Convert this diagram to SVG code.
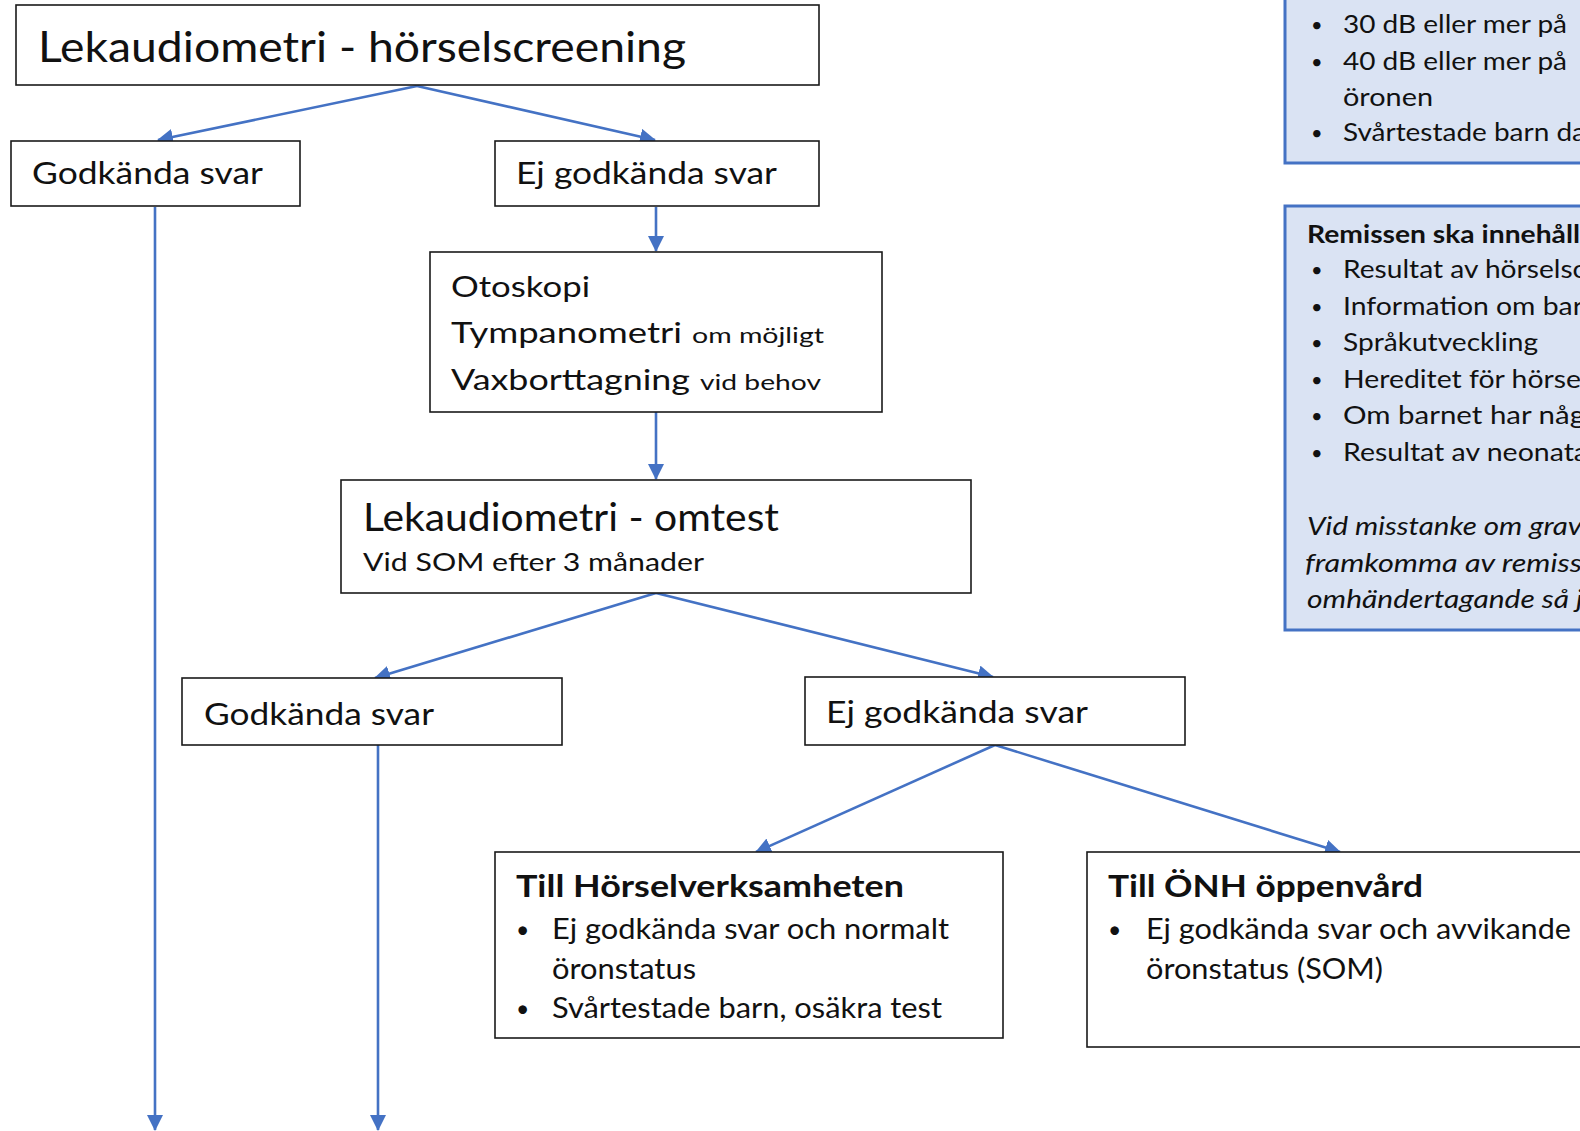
<svg xmlns="http://www.w3.org/2000/svg" width="1580" height="1131" viewBox="0 0 1580 1131">
<style>
.box{fill:#fff;stroke:#1a1a1a;stroke-width:1.6}
.info{fill:#dae3f3;stroke:#4472c4;stroke-width:3}
.t{font-family:Lato,"Liberation Sans",sans-serif;fill:#111}
.b{font-weight:bold}
.i{font-style:italic}
.bl{font-size:20px}
.con{stroke:#4472c4;stroke-width:2.6;fill:none;marker-end:url(#ah)}
</style>
<defs>
<marker id="ah" viewBox="0 0 16 16" refX="15" refY="8" markerWidth="16" markerHeight="16" markerUnits="userSpaceOnUse" orient="auto">
<path d="M0,0 L16,8 L0,16 z" fill="#4472c4"/>
</marker>
</defs>
<rect width="1580" height="1131" fill="#fff"/>

<g id="info1">
<rect class="info" x="1285" y="-10" width="310" height="173"/>
<g class="t" font-size="25">
<text class="bl" x="1311" y="32">•</text><text x="1343" y="33" textLength="224" lengthAdjust="spacingAndGlyphs">30 dB eller mer på</text>
<text class="bl" x="1311" y="69">•</text><text x="1343" y="70" textLength="224" lengthAdjust="spacingAndGlyphs">40 dB eller mer på</text>
<text x="1343" y="106" textLength="90" lengthAdjust="spacingAndGlyphs">öronen</text>
<text class="bl" x="1311" y="140">•</text><text x="1343" y="141" textLength="243" lengthAdjust="spacingAndGlyphs">Svårtestade barn da</text>
</g>
</g>

<g id="info2">
<rect class="info" x="1285" y="206" width="310" height="424"/>
<g class="t" font-size="25">
<text class="b" x="1307" y="243" textLength="273" lengthAdjust="spacingAndGlyphs">Remissen ska innehåll</text>
<text class="bl" x="1311" y="277">•</text><text x="1343" y="278" textLength="243" lengthAdjust="spacingAndGlyphs">Resultat av hörselsc</text>
<text class="bl" x="1311" y="314">•</text><text x="1343" y="315" textLength="240" lengthAdjust="spacingAndGlyphs">Information om bar</text>
<text class="bl" x="1311" y="350">•</text><text x="1343" y="351" textLength="195" lengthAdjust="spacingAndGlyphs">Språkutveckling</text>
<text class="bl" x="1311" y="387">•</text><text x="1343" y="388" textLength="238" lengthAdjust="spacingAndGlyphs">Hereditet för hörse</text>
<text class="bl" x="1311" y="423">•</text><text x="1343" y="424" textLength="242" lengthAdjust="spacingAndGlyphs">Om barnet har någ</text>
<text class="bl" x="1311" y="460">•</text><text x="1343" y="461" textLength="245" lengthAdjust="spacingAndGlyphs">Resultat av neonata</text>
<text class="i" x="1307" y="535" textLength="275" lengthAdjust="spacingAndGlyphs">Vid misstanke om grav</text>
<text class="i" x="1305" y="572" textLength="277" lengthAdjust="spacingAndGlyphs">framkomma av remiss</text>
<text class="i" x="1307" y="608" textLength="276" lengthAdjust="spacingAndGlyphs">omhändertagande så j</text>
</g>
</g>

<g id="connectors">
<line class="con" x1="417" y1="86" x2="158" y2="140"/>
<line class="con" x1="417" y1="86" x2="655" y2="140"/>
<line class="con" x1="656" y1="207" x2="656" y2="251"/>
<line class="con" x1="656" y1="412" x2="656" y2="479"/>
<line class="con" x1="656" y1="593" x2="375" y2="678"/>
<line class="con" x1="656" y1="593" x2="993" y2="677"/>
<line class="con" x1="995" y1="745" x2="756" y2="852"/>
<line class="con" x1="995" y1="745" x2="1340" y2="852"/>
<line class="con" x1="155" y1="207" x2="155" y2="1130"/>
<line class="con" x1="378" y1="745" x2="378" y2="1130"/>
</g>

<g id="n-title">
<rect class="box" x="16" y="5" width="803" height="80"/>
<text class="t" x="38" y="62" font-size="42" textLength="648" lengthAdjust="spacingAndGlyphs">Lekaudiometri - hörselscreening</text>
</g>

<g id="n-godk1">
<rect class="box" x="11" y="141" width="289" height="65"/>
<text class="t" x="32" y="184" font-size="31" textLength="231" lengthAdjust="spacingAndGlyphs">Godkända svar</text>
</g>

<g id="n-ejgodk1">
<rect class="box" x="495" y="141" width="324" height="65"/>
<text class="t" x="516" y="184" font-size="31" textLength="261" lengthAdjust="spacingAndGlyphs">Ej godkända svar</text>
</g>

<g id="n-otoskopi">
<rect class="box" x="430" y="252" width="452" height="160"/>
<g class="t">
<text x="451" y="297" font-size="29" textLength="139" lengthAdjust="spacingAndGlyphs">Otoskopi</text>
<text x="451" y="343" font-size="29" textLength="231" lengthAdjust="spacingAndGlyphs">Tympanometri</text>
<text x="692" y="343" font-size="22" textLength="132" lengthAdjust="spacingAndGlyphs">om möjligt</text>
<text x="451" y="390" font-size="29" textLength="239" lengthAdjust="spacingAndGlyphs">Vaxborttagning</text>
<text x="700" y="390" font-size="22" textLength="121" lengthAdjust="spacingAndGlyphs">vid behov</text>
</g>
</g>

<g id="n-omtest">
<rect class="box" x="341" y="480" width="630" height="113"/>
<text class="t" x="363" y="531" font-size="38" textLength="416" lengthAdjust="spacingAndGlyphs">Lekaudiometri - omtest</text>
<text class="t" x="363" y="571" font-size="25" textLength="341" lengthAdjust="spacingAndGlyphs">Vid SOM efter 3 månader</text>
</g>

<g id="n-godk2">
<rect class="box" x="182" y="678" width="380" height="67"/>
<text class="t" x="204" y="725" font-size="31" textLength="230" lengthAdjust="spacingAndGlyphs">Godkända svar</text>
</g>

<g id="n-ejgodk2">
<rect class="box" x="805" y="677" width="380" height="68"/>
<text class="t" x="826" y="723" font-size="31" textLength="262" lengthAdjust="spacingAndGlyphs">Ej godkända svar</text>
</g>

<g id="n-horsel">
<rect class="box" x="495" y="852" width="508" height="186"/>
<g class="t">
<text class="b" x="516" y="897" font-size="30" textLength="388" lengthAdjust="spacingAndGlyphs">Till Hörselverksamheten</text>
<text x="516" y="938" font-size="23">•</text>
<text x="552" y="939" font-size="28" textLength="397" lengthAdjust="spacingAndGlyphs">Ej godkända svar och normalt</text>
<text x="552" y="979" font-size="28" textLength="144" lengthAdjust="spacingAndGlyphs">öronstatus</text>
<text x="516" y="1017" font-size="23">•</text>
<text x="552" y="1018" font-size="28" textLength="390" lengthAdjust="spacingAndGlyphs">Svårtestade barn, osäkra test</text>
</g>
</g>

<g id="n-onh">
<rect class="box" x="1087" y="852" width="520" height="195"/>
<g class="t">
<text class="b" x="1108" y="897" font-size="30" textLength="315" lengthAdjust="spacingAndGlyphs">Till ÖNH öppenvård</text>
<text x="1108" y="938" font-size="23">•</text>
<text x="1146" y="939" font-size="28" textLength="425" lengthAdjust="spacingAndGlyphs">Ej godkända svar och avvikande</text>
<text x="1146" y="979" font-size="28" textLength="237" lengthAdjust="spacingAndGlyphs">öronstatus (SOM)</text>
</g>
</g>
</svg>
